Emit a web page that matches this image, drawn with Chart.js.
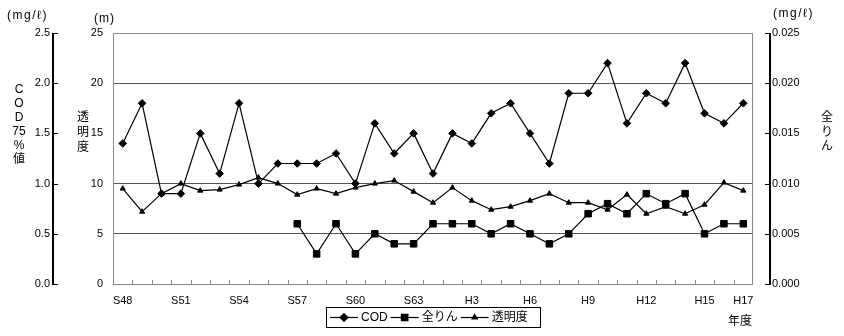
<!DOCTYPE html>
<html>
<head>
<meta charset="utf-8">
<script src="https://cdn.jsdelivr.net/npm/chart.js@4/dist/chart.umd.min.js"></script>
<style>
  html, body { margin: 0; padding: 0; background: #fff; }
  #wrap { width: 844px; height: 336px; position: relative; }
</style>
</head>
<body>
<div id="wrap"><canvas id="chart"></canvas></div>
<script>
const years = ['S48','S49','S50','S51','S52','S53','S54','S55','S56','S57','S58','S59','S60','S61','S62','S63',
  'H1','H2','H3','H4','H5','H6','H7','H8','H9','H10','H11','H12','H13','H14','H15','H16','H17'];
const shownYears = ['S48','S51','S54','S57','S60','S63','H3','H6','H9','H12','H15','H17'];

// COD 75%値 (mg/l)
const cod = [1.4, 1.8, 0.9, 0.9, 1.5, 1.1, 1.8, 1.0, 1.2, 1.2, 1.2, 1.3, 1.0, 1.6, 1.3, 1.5,
  1.1, 1.5, 1.4, 1.7, 1.8, 1.5, 1.2, 1.9, 1.9, 2.2, 1.6, 1.9, 1.8, 2.2, 1.7, 1.6, 1.8];
// 全りん (mg/l)
const phosphorus = [null, null, null, null, null, null, null, null, null,
  0.006, 0.003, 0.006, 0.003, 0.005, 0.004, 0.004,
  0.006, 0.006, 0.006, 0.005, 0.006, 0.005, 0.004, 0.005, 0.007, 0.008, 0.007, 0.009, 0.008, 0.009, 0.005, 0.006, 0.006];
// 透明度 (m)
const transparency = [9.5, 7.2, 9.0, 10.0, 9.3, 9.4, 9.9, 10.6, 10.0, 8.9, 9.5, 9.0, 9.6, 10.0, 10.3, 9.2,
  8.1, 9.6, 8.3, 7.4, 7.7, 8.3, 9.0, 8.1, 8.1, 7.4, 8.9, 7.0, 7.7, 7.0, 7.9, 10.1, 9.3];

const FONT = '"Liberation Sans", "Noto Sans CJK JP", sans-serif';

// box, inner ticks, extra axis lines, titles and legend
const decor = {
  id: 'decor',
  beforeDatasetsDraw(chart) {
    const { ctx, chartArea: a, scales } = chart;
    ctx.save();
    ctx.strokeStyle = '#888';
    ctx.lineWidth = 1;
    ctx.strokeRect(a.left + 0.5, a.top + 0.5, a.right - a.left - 1, a.bottom - a.top);
    // x tick marks between years, pointing up
    ctx.beginPath();
    for (let i = 1; i < years.length; i++) {
      const x = Math.round((scales.x.getPixelForValue(i - 1) + scales.x.getPixelForValue(i)) / 2) + 0.5;
      ctx.moveTo(x, a.bottom);
      ctx.lineTo(x, a.bottom - 4);
    }
    ctx.stroke();
    ctx.restore();
  },
  afterDraw(chart) {
    const { ctx, chartArea: a, scales } = chart;
    ctx.save();
    ctx.strokeStyle = '#000';
    // left COD axis
    ctx.lineWidth = 2;
    ctx.beginPath();
    ctx.moveTo(53, a.top); ctx.lineTo(53, a.bottom + 1);
    ctx.stroke();
    ctx.lineWidth = 1;
    ctx.beginPath();
    scales.yCOD.ticks.forEach(t => {
      const y = Math.round(scales.yCOD.getPixelForValue(t.value)) + 0.5;
      ctx.moveTo(53, y); ctx.lineTo(58, y);
    });
    ctx.stroke();
    // right phosphorus axis
    ctx.lineWidth = 2;
    ctx.beginPath();
    ctx.moveTo(770, a.top); ctx.lineTo(770, a.bottom + 1);
    ctx.stroke();
    ctx.lineWidth = 1;
    ctx.beginPath();
    scales.yP.ticks.forEach(t => {
      const y = Math.round(scales.yP.getPixelForValue(t.value)) + 0.5;
      ctx.moveTo(765, y); ctx.lineTo(770, y);
    });
    ctx.stroke();

    ctx.fillStyle = '#000';
    ctx.textBaseline = 'middle';
    ctx.textAlign = 'left';
    ctx.font = '12px ' + FONT;
    ctx.letterSpacing = '1.5px';
    ctx.fillText('(mg/ℓ)', 7, 16);
    ctx.fillText('(mg/ℓ)', 773, 14);
    ctx.letterSpacing = '1px';
    ctx.fillText('(m)', 94, 19);
    ctx.letterSpacing = '0px';
    ctx.fillText('年度', 728, 322);

    ctx.textAlign = 'center';
    ['C', 'O', 'D', '75', '%', '値'].forEach((c, i) => ctx.fillText(c, 19, 90 + i * 14));
    ['透', '明', '度'].forEach((c, i) => ctx.fillText(c, 83, 118 + i * 15));
    ['全', 'り', 'ん'].forEach((c, i) => ctx.fillText(c, 827, 118 + i * 14.5));

    // legend
    ctx.lineWidth = 1;
    ctx.strokeRect(326.5, 307.5, 214, 20);
    let x = 330;
    const ly = 317.5;
    ctx.textAlign = 'left';
    chart.data.datasets.forEach(ds => {
      ctx.beginPath();
      ctx.lineWidth = 1.2;
      ctx.moveTo(x, ly); ctx.lineTo(x + 28, ly);
      ctx.stroke();
      Chart.helpers.drawPoint(ctx, { pointStyle: ds.pointStyle, radius: ds.pointRadius, borderWidth: 1, rotation: 0 }, x + 14, ly);
      ctx.fill();
      ctx.fillText(ds.label, x + 31, ly);
      x += 31 + ctx.measureText(ds.label).width + 3;
    });
    ctx.restore();
  }
};

new Chart(document.getElementById('chart'), {
  type: 'line',
  data: {
    labels: years,
    datasets: [
      { label: 'COD', data: cod, yAxisID: 'yCOD', pointStyle: 'rectRot', pointRadius: 3.8 },
      { label: '全りん', data: phosphorus, yAxisID: 'yP', pointStyle: 'rect', pointRadius: 4.6 },
      { label: '透明度', data: transparency, yAxisID: 'yT', pointStyle: 'triangle', pointRadius: 3 }
    ].map(d => Object.assign({
      borderColor: '#000', backgroundColor: '#000', pointBackgroundColor: '#000',
      pointBorderColor: '#000', borderWidth: 1.2, pointBorderWidth: 1, tension: 0, spanGaps: false
    }, d))
  },
  options: {
    responsive: true,
    maintainAspectRatio: false,
    animation: false,
    layout: { padding: { top: 33, left: 0, right: 0, bottom: 0 } },
    plugins: { legend: { display: false }, tooltip: { enabled: false } },
    scales: {
      x: {
        offset: true,
        grid: { display: false, drawTicks: false },
        border: { display: false },
        ticks: {
          autoSkip: false, maxRotation: 0, padding: 10, color: '#000',
          font: { family: FONT, size: 11 },
          callback: (v, i) => shownYears.includes(years[i]) ? years[i] : ''
        },
        afterFit: s => { s.height = 52; }
      },
      yT: {
        position: 'left', weight: 0, min: 0, max: 25,
        grid: {
          drawTicks: false,
          color: c => [5, 10, 20].includes(c.tick.value) ? '#555' : 'rgba(0,0,0,0)'
        },
        border: { display: false },
        ticks: { stepSize: 5, padding: 10, color: '#000', font: { family: FONT, size: 11 } },
        afterFit: s => { s.width = 58; }
      },
      yCOD: {
        position: 'left', weight: 1, min: 0, max: 2.5,
        grid: { display: false, drawTicks: false },
        border: { display: false },
        ticks: { stepSize: 0.5, padding: 5, color: '#000', font: { family: FONT, size: 11 }, callback: v => v.toFixed(1) },
        afterFit: s => { s.width = 55; }
      },
      yP: {
        position: 'right', min: 0, max: 0.025,
        grid: { display: false, drawTicks: false },
        border: { display: false },
        ticks: { stepSize: 0.005, padding: 19, color: '#000', font: { family: FONT, size: 11 }, callback: v => v.toFixed(3) },
        afterFit: s => { s.width = 91; }
      }
    }
  },
  plugins: [decor]
});
</script>
</body>
</html>
